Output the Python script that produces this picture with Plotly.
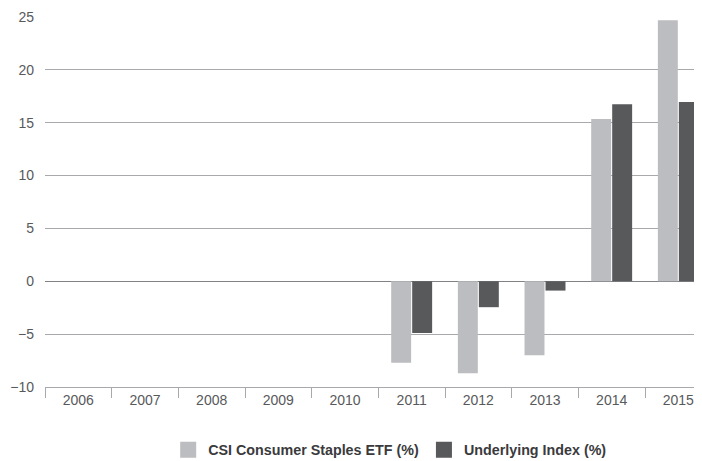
import plotly.graph_objects as go

years = ["2006", "2007", "2008", "2009", "2010", "2011", "2012", "2013", "2014", "2015"]
etf = [0, 0, 0, 0, 0, -7.7, -8.7, -7.0, 15.35, 24.7]
index = [0, 0, 0, 0, 0, -4.9, -2.45, -0.88, 16.75, 16.95]
y_ticks = [-10, -5, 0, 5, 10, 15, 20, 25]
names = ["CSI Consumer Staples ETF (%)", "Underlying Index (%)"]
colors = ["#bcbdc0", "#58595b"]

fig = go.Figure()
for vals, name, col in zip([etf, index], names, colors):
    fig.add_trace(go.Bar(x=years, y=vals, name=name, showlegend=False,
                         marker=dict(color=col, line=dict(width=0))))
for name, col in zip(names, colors):
    fig.add_trace(go.Scatter(x=[None], y=[None], mode="markers", name=name,
                             marker=dict(symbol="square", size=21, color=col)))

# page body has an 8px default margin; size the figure to fit the 702x461 window
fig.update_layout(
    width=694, height=453,
    margin=dict(l=37, r=2, t=9, b=74, autoexpand=False),
    paper_bgcolor="white", plot_bgcolor="white",
    barmode="group", bargap=0.37, bargroupgap=0.05,
    font=dict(family="Liberation Sans, Arial, sans-serif", size=14, color="#58595b"),
    showlegend=True,
    legend=dict(orientation="h", x=0.527, xanchor="center", y=-0.170, yanchor="middle",
                font=dict(size=14.3, color="#3a3a3c", weight="bold"),
                itemwidth=30, traceorder="normal"),
)
# the reference crops the last category slightly at the right edge
fig.update_xaxes(type="category", range=[-0.5, 9.325], tickson="boundaries",
                 ticks="outside", ticklen=10,
                 tickcolor="#a7a9ac", showline=True, linecolor="#a7a9ac", linewidth=1,
                 showgrid=False, automargin=False, tickfont=dict(size=14, color="#58595b"))
fig.update_yaxes(range=[-10, 25], tickvals=y_ticks, showgrid=True, gridcolor="#a7a9ac",
                 gridwidth=1, zeroline=True, zerolinecolor="#808285", zerolinewidth=1,
                 showline=False, ticklabelstandoff=10, automargin=False,
                 tickfont=dict(size=14, color="#58595b"))

fig.write_html("out.html")
